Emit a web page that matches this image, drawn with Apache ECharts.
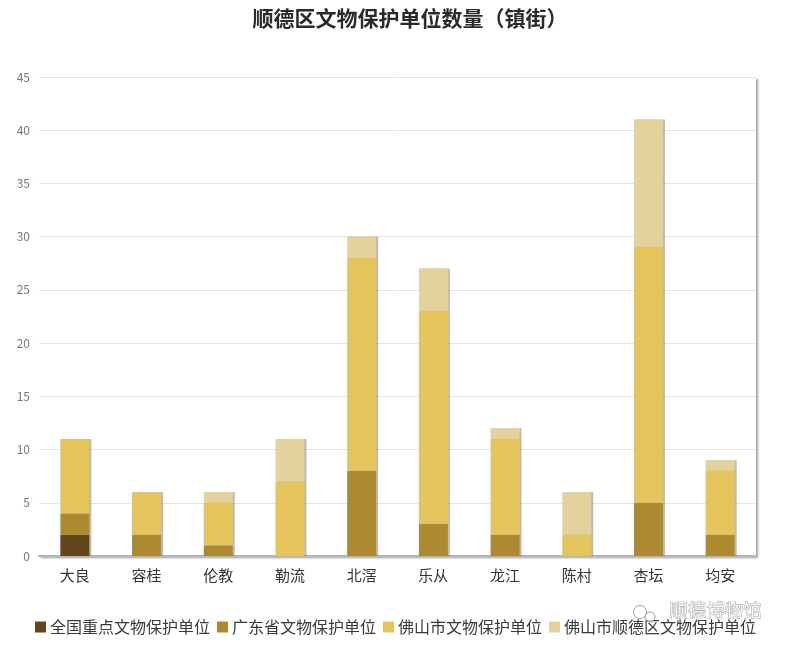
<!DOCTYPE html>
<html><head><meta charset="utf-8">
<script src="https://cdn.jsdelivr.net/npm/echarts@6/dist/echarts.min.js"></script>
<style>html,body{margin:0;padding:0;background:#fff}#c{width:788px;height:648px}</style>
</head><body><div id="c"></div>
<script>
const categories=['大良','容桂','伦教','勒流','北滘','乐从','龙江','陈村','杏坛','均安'];
const national=[2,0,0,0,0,0,0,0,0,0];
const guangdong=[2,2,1,0,8,3,2,0,5,2];
const foshan=[7,4,4,7,20,20,9,2,24,6];
const shunde=[0,0,1,4,2,4,1,4,12,1];
const seriesNames=['全国重点文物保护单位','广东省文物保护单位','佛山市文物保护单位','佛山市顺德区文物保护单位'];
const seriesColors=['#65451a','#ad8a2f','#e5c45c','#e3d29c'];
const seriesData=[national,guangdong,foshan,shunde];
const font='"Noto Sans CJK SC","Noto Sans",sans-serif';
const chart=echarts.init(document.getElementById('c'),null,{renderer:'canvas'});
chart.setOption({
  animation:false,
  backgroundColor:'#fff',
  title:{text:'顺德区文物保护单位数量（镇街）',left:405,top:3,textAlign:'center',
    textStyle:{fontFamily:font,fontSize:21,fontWeight:'bold',color:'#2a2a2a'}},
  legend:{left:30,top:614,itemWidth:11,itemHeight:11,itemGap:7,
    icon:'rect',textStyle:{fontFamily:font,fontSize:16,color:'#3a3a3a',padding:[0,0,0,-1]},
    data:seriesNames},
  grid:{left:39,right:32,top:77,bottom:92,show:true,backgroundColor:'#fff',borderWidth:0,
    shadowColor:'rgba(140,140,140,0.8)',shadowBlur:2,shadowOffsetX:2,shadowOffsetY:2},
  xAxis:{type:'category',data:categories,
    axisLine:{lineStyle:{color:'#b4b4ba',width:2}},axisTick:{show:false},
    axisLabel:{fontFamily:font,fontSize:15,color:'#333',margin:12}},
  yAxis:{type:'value',min:0,max:45,interval:5,
    axisLine:{show:false},axisTick:{show:false},
    splitLine:{lineStyle:{color:'#e4e4e4',width:1}},
    axisLabel:{fontFamily:font,fontSize:12,color:'#777',margin:9}},
  series:seriesNames.map((n,i)=>({
    name:n,type:'bar',stack:'total',barWidth:29,
    data:seriesData[i],
    itemStyle:{color:seriesColors[i],shadowColor:'rgba(120,120,120,0.5)',shadowBlur:0,shadowOffsetX:2,shadowOffsetY:0}
  })),
  graphic:[
    {type:'text',left:669,top:600,z:100,
      style:{text:'顺德博物馆',fontFamily:font,fontSize:18.5,fill:'rgba(255,255,255,0.8)',stroke:'rgba(110,110,110,0.75)',lineWidth:0.7}},
    {type:'circle',z:100,shape:{cx:640,cy:612,r:6.5},style:{fill:'rgba(255,255,255,0.7)',stroke:'rgba(120,120,120,0.7)',lineWidth:1}},
    {type:'circle',z:100,shape:{cx:650,cy:617,r:5},style:{fill:'rgba(255,255,255,0.7)',stroke:'rgba(120,120,120,0.7)',lineWidth:1}}
  ]
});
</script></body></html>
